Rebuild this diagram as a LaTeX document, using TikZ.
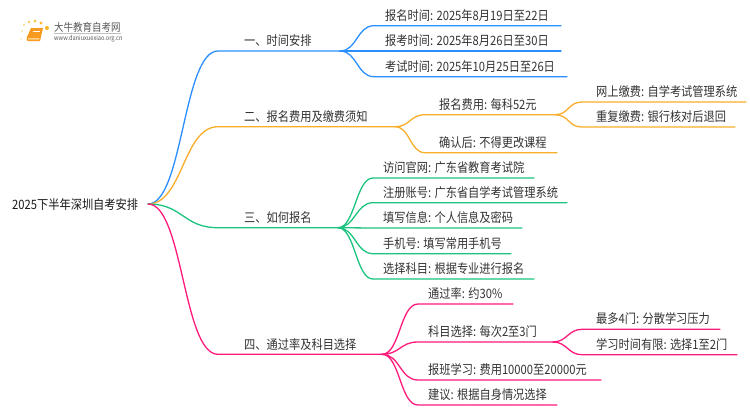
\documentclass[tikz,border=0pt]{standalone}
\usepackage{fontspec}
\usetikzlibrary{calc}
\setmainfont[FakeStretch=0.87]{Noto Sans CJK SC}
\definecolor{cblue}{HTML}{2B8FFF}
\definecolor{corange}{HTML}{F8AE2A}
\definecolor{cgreen}{HTML}{1CC47F}
\definecolor{cpink}{HTML}{FF1A7C}
\definecolor{ctext}{HTML}{333333}
\definecolor{bookc}{HTML}{F79A1E}
\definecolor{bookl}{HTML}{FCD28A}
\tikzset{
 txt/.style={anchor=west,inner sep=0pt,text=ctext,font=\fontsize{12.9}{14}\selectfont},
 link/.style={to path={.. controls ($(\tikztostart)+(#1,0)$) and ($(\tikztotarget)-(#1,0)$) .. (\tikztotarget)}},
 edge1/.style={line width=1.3pt,line cap=round},
 logotxt/.style={anchor=west,inner sep=0pt,text=black!65}
}
\begin{document}
\begin{tikzpicture}[x=1pt,y=-1pt]
\useasboundingbox (0,0) rectangle (750,410);
\fill[white] (0,0) rectangle (750,410);
% logo
\foreach \x/\y/\r/\c in {21/39/.8/FCE6B0,22/31/1/FBDD96,24/25/1.2/FBD67E,29/22/1.4/FBCB5A,35/21/1.5/FAC443,41/23/1.6/F9BC2F,47/28/2/F8B423,24/42/.7/FDF0D0}{
 \definecolor{tmpc}{HTML}{\c}\fill[tmpc] (\x,\y) circle (\r);}
\fill[bookc] (31,28) -- (43,28) -- (40,41) -- (29,41) .. controls (26,41) and (26,39) .. (27,37) -- cycle;
\fill[bookl] (28,38.2) -- (39.5,38.2) -- (39.2,39.6) -- (28,39.6) -- cycle;
\draw[white,line width=.5pt] (33,31) -- (40,31);
\node[logotxt,font=\fontsize{10.9}{11}\selectfont] (logoa) at (54,27) {大牛教育自考网};
\draw[black!25,line width=.4pt] (54,33.5) -- (121,33.5);
\node[logotxt,font=\fontsize{6.5}{7}\selectfont] (logob) at (54,38.5) {www.daniuxuexiao.org.cn};
% root
\node[txt,text=black!90] (root) at (12,205) {2025下半年深圳自考安排};
\coordinate (r) at (148,204);
% coordinates
\foreach \n/\xa/\xb/\y in {
 a/218/340/51, b/218/395/126.7, c/218/338/227.7, d/218/382/354.3,
 a1/374/561/25.7, a2/374/561/51, a3/374/567/76.7,
 b1/425/555/114.7, b2/425/557/152.7, b11/582/746/102, b12/582/735/127,
 c1/373/534/178, c2/373/567/202.7, c3/373/522/228, c4/373/511/253.7, c5/373/534/279,
 d1/418/513/304, d2/418/553/342, d3/418/601/380, d4/418/557/405,
 d21/582/720/329.3, d22/582/737/354.7}{
 \coordinate (\n s) at (\xa,\y);
 \coordinate (\n e) at (\xb,\y);
}
% connectors
\draw[edge1,cblue] (r) to[link=35] (as) -- (ae);
\draw[edge1,corange] (r) to[link=35] (bs) -- (be);
\draw[edge1,cgreen] (r) to[link=35] (cs) -- (ce);
\draw[edge1,cpink] (r) to[link=35] (ds) -- (de);
\draw[edge1,cblue] (ae) to[link=17] (a1s) -- (a1e);
\draw[edge1,cblue] (ae) to[link=17] (a2s) -- (a2e);
\draw[edge1,cblue] (ae) to[link=17] (a3s) -- (a3e);
\draw[edge1,corange] (be) to[link=15] (b1s) -- (b1e);
\draw[edge1,corange] (be) to[link=15] (b2s) -- (b2e);
\draw[edge1,corange] (b1e) to[link=14] (b11s) -- (b11e);
\draw[edge1,corange] (b1e) to[link=14] (b12s) -- (b12e);
\foreach \k in {1,...,5}{\draw[edge1,cgreen] (ce) to[link=17] (c\k s) -- (c\k e);}
\foreach \k in {1,...,4}{\draw[edge1,cpink] (de) to[link=18] (d\k s) -- (d\k e);}
\draw[edge1,cpink] (d2e) to[link=14] (d21s) -- (d21e);
\draw[edge1,cpink] (d2e) to[link=14] (d22s) -- (d22e);
% labels
\node[txt] (ta) at (244,41) {一、时间安排};
\node[txt] (tb) at (244,117) {二、报名费用及缴费须知};
\node[txt] (tc) at (244,218) {三、如何报名};
\node[txt] (td) at (244,345) {四、通过率及科目选择};
\node[txt] (ta1) at (385,16) {报名时间: 2025年8月19日至22日};
\node[txt] (ta2) at (385,41) {报考时间: 2025年8月26日至30日};
\node[txt] (ta3) at (385,67) {考试时间: 2025年10月25日至26日};
\node[txt] (tb1) at (439,105) {报名费用: 每科52元};
\node[txt] (tb2) at (439,143) {确认后: 不得更改课程};
\node[txt] (tb11) at (596,92) {网上缴费: 自学考试管理系统};
\node[txt] (tb12) at (596,117) {重复缴费: 银行核对后退回};
\node[txt] (tc1) at (383,168) {访问官网: 广东省教育考试院};
\node[txt] (tc2) at (383,193) {注册账号: 广东省自学考试管理系统};
\node[txt] (tc3) at (383,218) {填写信息: 个人信息及密码};
\node[txt] (tc4) at (383,244) {手机号: 填写常用手机号};
\node[txt] (tc5) at (383,269) {选择科目: 根据专业进行报名};
\node[txt] (td1) at (428,294) {通过率: 约30\%};
\node[txt] (td2) at (428,332) {科目选择: 每次2至3门};
\node[txt] (td3) at (428,370) {报班学习: 费用10000至20000元};
\node[txt] (td4) at (428,395) {建议: 根据自身情况选择};
\node[txt] (td21) at (596,319) {最多4门: 分散学习压力};
\node[txt] (td22) at (596,345) {学习时间有限: 选择1至2门};
\end{tikzpicture}
\end{document}
